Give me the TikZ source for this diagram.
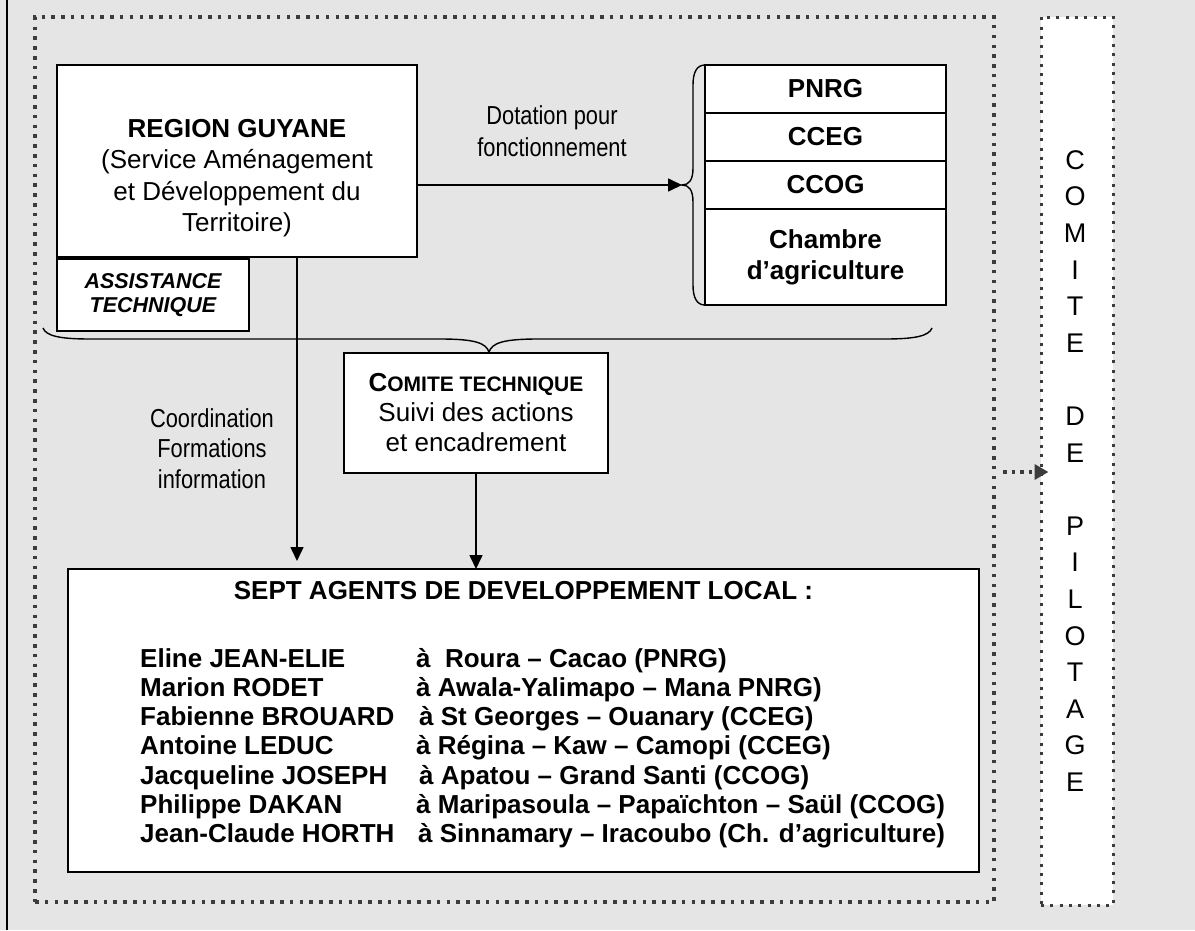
\documentclass[tikz,border=0pt]{standalone}
\usepackage{fontspec}
\setmainfont{Liberation Sans}
\newfontfamily\narrowfont[FakeStretch=0.84]{Liberation Sans}
\usetikzlibrary{arrows.meta,positioning}
\definecolor{bggray}{RGB}{229,229,229}
\definecolor{dotgray}{RGB}{60,60,60}

\begin{document}
\begin{tikzpicture}[x=1pt,y=-1pt,
  box/.style={draw, fill=white, line width=1.6pt, align=center, inner sep=0pt, outer sep=0pt},
  row/.style={box, minimum width=241pt, minimum height=48pt, font=\bfseries\fontsize{26}{31}\selectfont},
  arr/.style={line width=1.6pt, -{Triangle[length=14pt,width=13pt]}},
  dots/.style={draw=dotgray, line width=3.5pt, dash pattern=on 3.5pt off 6.3pt, inner sep=0pt}]
   \newcommand{\txt}{\fontsize{26}{31.5}\selectfont}
   \newcommand{\narrowtxt}[1]{\narrowfont\fontsize{26}{#1}\selectfont}

\fill[bggray] (0,0) rectangle (1195,930);
\useasboundingbox (0,0) rectangle (1195,930);
\draw[line width=1.8pt] (7,0) -- (7,930);

\node[dots, minimum width=959pt, minimum height=885pt] (fr) at (514.5,459.5) {};
\node[dots, line width=3pt, dash pattern=on 3pt off 6.3pt, fill=white,
  minimum width=72pt, minimum height=888pt] (cp) at (1077,461) {};
\foreach \c/\k in {C/0,O/1,M/2,I/3,T/4,E/5,D/7,E/8,P/10,I/11,L/12,O/13,T/14,A/15,G/16,E/17}
  \node[font=\fontsize{27}{27}\selectfont, inner sep=0pt] (cp\k) at (1075,{160+36.6*\k}) {\c};

\node[box, minimum width=360pt, minimum height=192pt] (rg) at (237,161) {};
\node[align=center, font=\txt] (rgt) at (237,178)
  {\textbf{REGION GUYANE}\\(Service Aménagement\\et Développement du\\Territoire)};
\node[box, minimum width=192pt, minimum height=72pt,
  font=\bfseries\itshape\fontsize{21.5}{23.5}\selectfont] (as) at (153,295) {ASSISTANCE\\TECHNIQUE};

\node[row] (pnrg) at (825.5,89) {PNRG};
\node[row, below=0pt of pnrg] (cceg) {CCEG};
\node[row, below=0pt of cceg] (ccog) {CCOG};
\node[row, minimum height=96pt, below=0pt of ccog] (chag) {Chambre\\d’agriculture};

\coordinate (tip) at (682,185);
\draw[line width=1.4pt] (pnrg.north west) .. controls (697,65) and (693,72) .. (693,85) -- (693,168)
  .. controls (693,180) and (689,185) .. (tip) .. controls (689,185) and (693,190) .. (693,202)
  -- (693,285) .. controls (693,298) and (697,305) .. (chag.south west);
\draw[arr] (rg.east |- tip) -- (tip);
\node[align=center, font=\narrowtxt{32}] (dot) at (552,131) {Dotation pour\\fonctionnement};

\draw[line width=1.4pt] (43,328) .. controls (46,336) and (60,339) .. (90,339) -- (440,339)
  .. controls (475,339) and (486,343) .. (489,352) .. controls (492,343) and (503,339) .. (538,339)
  -- (885,339) .. controls (915,339) and (929,336) .. (932,328);

\node[box, minimum width=264pt, minimum height=120pt, font=\fontsize{26}{30}\selectfont] (ct) at (476,413)
  {\textbf{C{\fontsize{21}{30}\selectfont OMITE TECHNIQUE}}\\Suivi des actions\\et encadrement};
\node[align=center, font=\narrowtxt{30.5}] (coord) at (212,448.5) {Coordination\\Formations\\information};

\node[box, minimum width=911pt, minimum height=303pt] (ag) at (523.5,720.5) {};
\node[font=\bfseries\txt, anchor=base, inner sep=0pt] (sept) at (523.5,599) {SEPT AGENTS DE DEVELOPPEMENT LOCAL :};
\foreach \nm/\pl/\dx [count=\i] in {Eline JEAN-ELIE/à~ Roura – Cacao (PNRG)/0,
    Marion RODET/à Awala-Yalimapo – Mana PNRG)/0,
    Fabienne BROUARD/à St Georges – Ouanary (CCEG)/3,
    Antoine LEDUC/à Régina – Kaw – Camopi (CCEG)/0,
    Jacqueline JOSEPH/à Apatou – Grand Santi (CCOG)/3,
    Philippe DAKAN/à Maripasoula – Papaïchton – Saül (CCOG)/0,
    Jean-Claude HORTH/à Sinnamary – Iracoubo (Ch. d’agriculture)/2}
  {
  \node[font=\bfseries\txt, anchor=base west, inner sep=0pt] (nm\i) at (140,{667+29.3*(\i-1)}) {\nm};
  \node[font=\bfseries\txt, anchor=base west, inner sep=0pt] (pl\i) at ({416+\dx},{667+29.3*(\i-1)}) {\pl};
  }

\draw[arr, shorten >=8pt] ([xshift=60pt]rg.south) -- ([xshift=60pt]rg.south |- ag.north);
\draw[arr] (ct.south) -- (ct.south |- ag.north);

\coordinate (da) at (1003,472);
\draw[draw=dotgray, line width=3.5pt, dash pattern=on 3.5pt off 5pt, shorten >=-9pt,
  -{Triangle[length=14pt,width=15pt,fill=dotgray]}] (da) -- (cp.west |- da);
\end{tikzpicture}
\end{document}
